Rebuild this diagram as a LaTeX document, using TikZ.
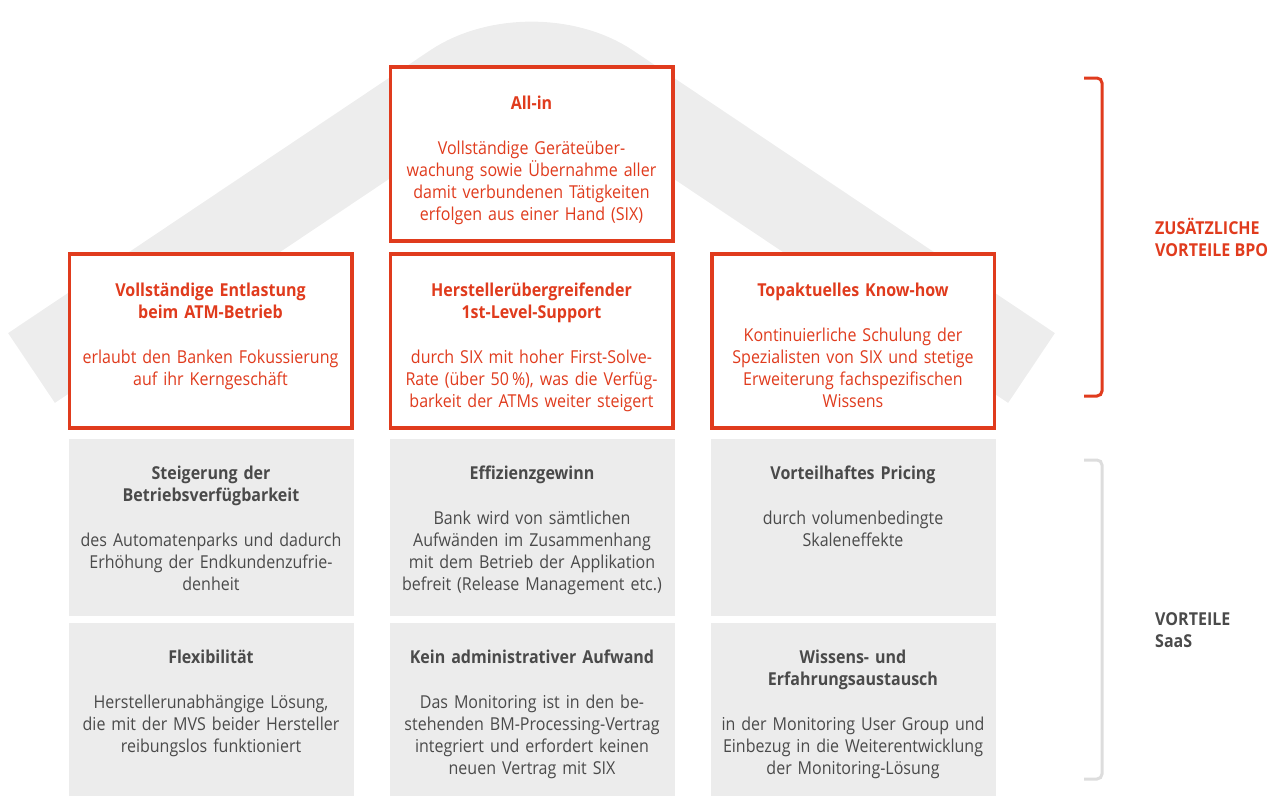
\documentclass[tikz,border=0pt]{standalone}
\usepackage{fontspec}
\setmainfont{Open Sans}[FakeStretch=0.9]
\definecolor{sixred}{HTML}{E03B1D}
\definecolor{boxgrey}{HTML}{ECECEC}
\definecolor{bandgrey}{HTML}{EDEDED}
\definecolor{textgrey}{HTML}{4A4A4A}
\definecolor{bracegrey}{HTML}{DDDDDD}
\begin{document}
\begin{tikzpicture}[x=1pt,y=-1pt,
    redbox/.style={draw=sixred, line width=3.5pt, fill=white, minimum width=282.5pt, minimum height=174pt, inner sep=0pt},
    greybox/.style={fill=boxgrey, minimum width=285pt, inner sep=0pt},
    redtext/.style={anchor=north, text width=282pt, align=center, inner sep=0pt, text=sixred, font=\fontsize{17.8}{22}\selectfont},
    greytext/.style={redtext, text=textgrey},
    sidelabel/.style={anchor=north west, align=left, inner sep=0pt, font=\fontsize{17.8}{22}\selectfont\bfseries}]
    \useasboundingbox (0,0) rectangle (1280,796);

    \draw[bandgrey, line width=84pt, rounded corners=94pt] (31.5,368) -- (531.5,33) -- (1031.5,368);

    \node[redbox] (allin) at (531.5,153.75) {};
    \node[redbox] (entlastung) at (210.5,341) {};
    \node[redbox] (support) at (531.5,341) {};
    \node[redbox] (knowhow) at (853,341) {};

    \node[greybox, minimum height=177pt] (verfuegbarkeit) at (211,527.5) {};
    \node[greybox, minimum height=177pt] (effizienz) at (532,527.5) {};
    \node[greybox, minimum height=177pt] (pricing) at (853,527.5) {};
    \node[greybox, minimum height=173pt] (flexibilitaet) at (211,709.5) {};
    \node[greybox, minimum height=173pt] (aufwand) at (532,709.5) {};
    \node[greybox, minimum height=173pt] (austausch) at (853,709.5) {};

    \node[redtext] (allin-text) at (531.5,93.6) {\strut\textbf{All-in}\\[23pt]
        Vollständige Geräteüber-\\wachung sowie Übernahme aller\\damit verbundenen Tätigkeiten\\erfolgen aus einer Hand (SIX)};
    \node[redtext] (entlastung-text) at (210.5,280.6) {\strut\textbf{Vollständige Entlastung}\\\textbf{beim ATM-Betrieb}\\[23pt]
        erlaubt den Banken Fokussierung\\auf ihr Kerngeschäft};
    \node[redtext] (support-text) at (531.5,280.6) {\strut\textbf{Herstellerübergreifender}\\\textbf{1st-Level-Support}\\[23pt]
        durch SIX mit hoher First-Solve-\\Rate (über 50\,\%), was die Verfüg-\\barkeit der ATMs weiter steigert};
    \node[redtext] (knowhow-text) at (853,280.6) {\strut\textbf{Topaktuelles Know-how}\\[23pt]
        Kontinuierliche Schulung der\\Spezialisten von SIX und stetige\\Erweiterung fachspezifischen\\Wissens};

    \node[greytext] (verfuegbarkeit-text) at (211,463.6) {\strut\textbf{Steigerung der}\\\textbf{Betriebsverfügbarkeit}\\[23pt]
        des Automatenparks und dadurch\\Erhöhung der Endkundenzufrie-\\denheit};
    \node[greytext] (effizienz-text) at (532,463.6) {\strut\textbf{Effizienzgewinn}\\[23pt]
        Bank wird von sämtlichen\\Aufwänden im Zusammenhang\\mit dem Betrieb der Applikation\\befreit (Release Management etc.)};
    \node[greytext] (pricing-text) at (853,463.6) {\strut\textbf{Vorteilhaftes Pricing}\\[23pt]
        durch volumenbedingte\\Skaleneffekte};
    \node[greytext] (flexibilitaet-text) at (211,647.6) {\strut\textbf{Flexibilität}\\[23pt]
        Herstellerunabhängige Lösung,\\die mit der MVS beider Hersteller\\reibungslos funktioniert};
    \node[greytext] (aufwand-text) at (532,647.6) {\strut\textbf{Kein administrativer Aufwand}\\[23pt]
        Das Monitoring ist in den be-\\stehenden BM-Processing-Vertrag\\integriert und erfordert keinen\\neuen Vertrag mit SIX};
    \node[greytext] (austausch-text) at (853,647.6) {\strut\textbf{Wissens- und}\\\textbf{Erfahrungsaustausch}\\[23pt]
        in der Monitoring User Group und\\Einbezug in die Weiterentwicklung\\der Monitoring-Lösung};

    \draw[sixred, line width=3pt, rounded corners=5pt] (1084,78) -- (1102,78) -- (1102,396) -- (1084,396);
    \draw[bracegrey, line width=3pt, rounded corners=5pt] (1084,460) -- (1102,460) -- (1102,779) -- (1084,779);

    \node[sidelabel, text=sixred] (bpo) at (1155,217.6) {\strut ZUSÄTZLICHE\\VORTEILE BPO};
    \node[sidelabel, text=textgrey] (saas) at (1155,609.6) {\strut VORTEILE\\SaaS};
\end{tikzpicture}
\end{document}
